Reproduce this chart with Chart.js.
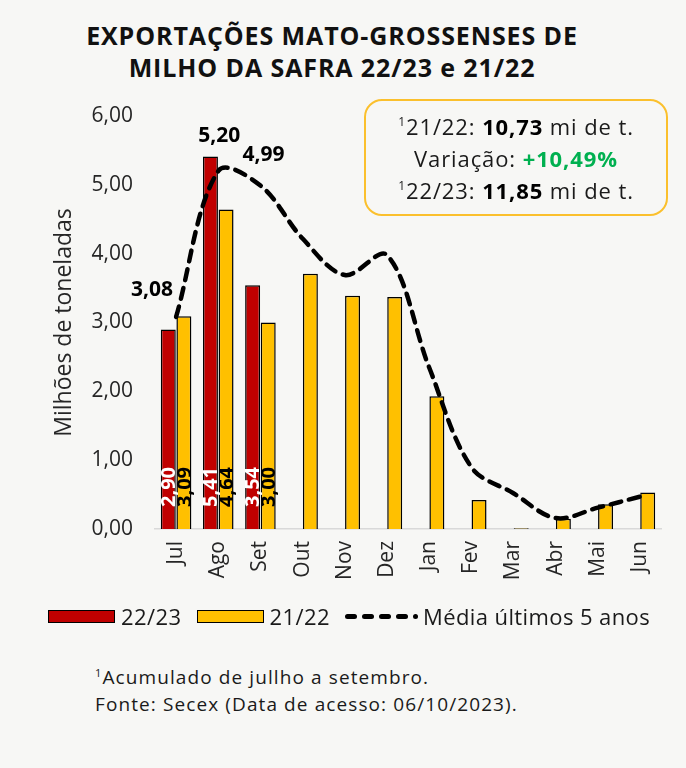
<!DOCTYPE html>
<html>
<head>
<meta charset="utf-8">
<script src="https://cdn.jsdelivr.net/npm/chart.js@4/dist/chart.umd.min.js"></script>
<style>
  body { margin: 0; background: #f7f7f5; font-family: "Open Sans", sans-serif; color: #1a1a1a; }
  #pagina { position: relative; width: 686px; height: 768px; overflow: hidden; }
  #titulo { position: absolute; left: 0; width: 664px; top: 19px; text-align: center;
            font-weight: bold; font-size: 25px; letter-spacing: 0.9px; line-height: 32px; color: #111; }
  #grafico { position: absolute; left: 0; top: 90px; width: 686px; height: 510px; }
  #caixa { position: absolute; left: 364px; top: 99px; width: 300px;
           border: 2.5px solid #fbc02d; border-radius: 18px; text-align: center;
           font-size: 22px; letter-spacing: 0.9px; line-height: 32px; padding-top: 9px; height: 104px; }
  #caixa b { font-weight: bold; color: #000; }
  #caixa b.verde { color: #00b050; }
  #caixa sup { font-size: 12px; vertical-align: 9px; line-height: 0; }
  #legenda { position: absolute; left: 48px; top: 598px; font-size: 22px; letter-spacing: 0.4px; line-height: 30px; white-space: nowrap; }
  #legenda span { display: inline-block; vertical-align: middle; }
  .caixinha { width: 65px; height: 11px; border: 1.5px solid #000; margin-right: 6px; }
  .traco { width: 12px; height: 5px; background: #000; border-radius: 3px; margin-right: 5px; }
  .ponto { width: 5px; height: 5px; background: #000; border-radius: 50%; margin-right: 5px; }
  #nota { position: absolute; left: 95px; top: 664px; font-size: 19px; letter-spacing: 1.1px; line-height: 27px; }
  #nota sup { font-size: 11px; vertical-align: 7px; line-height: 0; }
</style>
</head>
<body>
<div id="pagina">
  <div id="titulo">EXPORTAÇÕES MATO-GROSSENSES DE<br>MILHO DA SAFRA 22/23 e 21/22</div>
  <div id="grafico"><canvas id="myChart"></canvas></div>
  <div id="caixa">
    <sup>1</sup>21/22: <b>10,73</b> mi de t.<br>
    Variação: <b class="verde">+10,49%</b><br>
    <sup>1</sup>22/23: <b>11,85</b> mi de t.
  </div>
  <div id="legenda">
    <span class="caixinha" style="background:#c00000"></span><span style="margin-right:9px">22/23</span>
    <span class="caixinha" style="background:#ffc000"></span><span style="margin-right:9px">21/22</span>
    <span class="traco"></span><span class="traco"></span><span class="traco"></span><span class="traco"></span><span class="ponto"></span><span>Média últimos 5 anos</span>
  </div>
  <div id="nota">
    <sup>1</sup>Acumulado de jullho a setembro.<br>
    Fonte: Secex (Data de acesso: 06/10/2023).
  </div>
</div>
<script>
const meses = ['Jul', 'Ago', 'Set', 'Out', 'Nov', 'Dez', 'Jan', 'Fev', 'Mar', 'Abr', 'Mai', 'Jun'];
const safra2223 = [2.90, 5.41, 3.54, null, null, null, null, null, null, null, null, null];
const safra2122 = [3.09, 4.64, 3.00, 3.71, 3.39, 3.37, 1.93, 0.42, 0.01, 0.15, 0.36, 0.53];
const media5anos = [3.08, 5.20, 4.99, 4.22, 3.69, 3.98, 2.35, 0.90, 0.52, 0.16, 0.31, 0.47];
const mesesComRotulo = 3;

function virgula(v){
    return v.toFixed(2).replace('.', ',');
}

const rotulos = {
    id: 'rotulos',
    afterDatasetsDraw(chart){
        const ctx = chart.ctx;
        const y0 = chart.scales.y.getPixelForValue(0);
        // rotulos das barras, girados, na base
        [0, 1].forEach(di => {
            const meta = chart.getDatasetMeta(di);
            const valores = chart.data.datasets[di].data;
            meta.data.forEach((bar, i) => {
                if (i >= mesesComRotulo || valores[i] == null) return;
                ctx.save();
                ctx.translate(bar.x, y0 - 22);
                ctx.rotate(-Math.PI / 2);
                ctx.font = 'bold 20px "Open Sans"';
                ctx.fillStyle = di == 0 ? '#ffffff' : '#000000';
                ctx.textAlign = 'left';
                ctx.textBaseline = 'middle';
                ctx.fillText(virgula(valores[i]), 0, 1);
                ctx.restore();
            });
        });
        // rotulos da media
        const linha = chart.getDatasetMeta(2);
        const desloc = [[-3, -27, 'right'], [1, -35, 'center'], [3, -31, 'center']];
        ctx.save();
        ctx.font = 'bold 21px "Open Sans"';
        ctx.fillStyle = '#000';
        ctx.textBaseline = 'middle';
        for (let i = 0; i < mesesComRotulo; i++){
            const p = linha.data[i];
            ctx.textAlign = desloc[i][2];
            ctx.fillText(virgula(media5anos[i]), p.x + desloc[i][0], p.y + desloc[i][1]);
        }
        ctx.restore();
    }
};

const ctx = document.getElementById('myChart');
new Chart(ctx, {
    type: 'bar',
    data: {
        labels: meses,
        datasets: [{
            label: '22/23',
            data: safra2223,
            backgroundColor: '#c00000',
            borderColor: '#000',
            borderWidth: 1.5,
            order: 1
        }, {
            label: '21/22',
            data: safra2122,
            backgroundColor: '#ffc000',
            borderColor: '#000',
            borderWidth: 1.5,
            order: 1
        }, {
            type: 'line',
            label: 'Média últimos 5 anos',
            data: media5anos,
            borderColor: '#000',
            borderWidth: 4.5,
            borderDash: [11, 8],
            borderCapStyle: 'round',
            pointRadius: 0,
            tension: 0.35,
            fill: false,
            order: 0
        }]
    },
    options: {
        responsive: true,
        maintainAspectRatio: false,
        animation: false,
        datasets: { bar: { categoryPercentage: 0.74, barPercentage: 0.96 } },
        layout: { padding: { left: 51, top: 26, right: 25, bottom: 0 } },
        plugins: { legend: { display: false }, tooltip: { enabled: false } },
        scales: {
            y: {
                min: 0,
                max: 6,
                ticks: {
                    stepSize: 1,
                    padding: 22,
                    color: '#262626',
                    font: { family: 'Open Sans', size: 21 },
                    callback: function(value){ return virgula(value); }
                },
                grid: { display: false, drawTicks: false },
                border: { display: false },
                title: {
                    display: true,
                    text: 'Milhões de toneladas',
                    color: '#262626',
                    font: { family: 'Open Sans', size: 23 },
                    padding: { top: 0, bottom: 0 }
                },
                afterFit: function(scale){
                    scale.width = 104;
                    scale.paddingTop = 10;
                    scale.paddingBottom = 10;
                }
            },
            x: {
                ticks: {
                    maxRotation: 90,
                    minRotation: 90,
                    padding: 12,
                    color: '#262626',
                    font: { family: 'Open Sans', size: 21 }
                },
                grid: { display: false, drawTicks: false },
                border: { display: true, color: '#d9d9d9', width: 1.5 },
                afterFit: function(scale){ scale.height = 71; }
            }
        }
    },
    plugins: [rotulos]
});
</script>
</body>
</html>
